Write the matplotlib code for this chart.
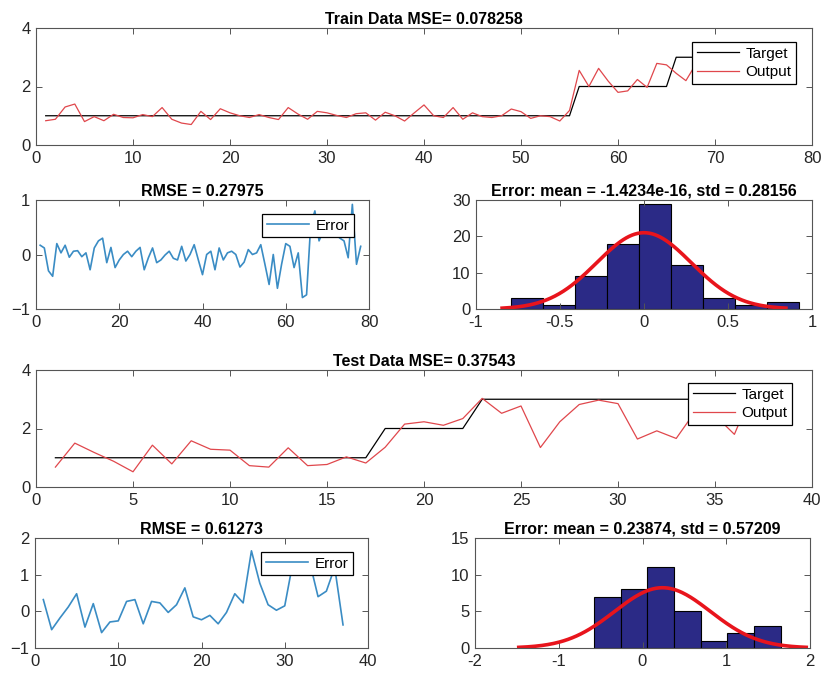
import numpy as np
import matplotlib
matplotlib.use("Agg")
import matplotlib.pyplot as plt

plt.rcParams['font.family'] = ['Liberation Sans', 'DejaVu Sans']

# ---- train data (78 samples) ----
train_target = [1] * 55 + [2] * 10 + [3] * 13
train_err = [0.17, 0.12, -0.3, -0.4, 0.2, 0.03, 0.17, -0.05, 0.06, 0.07,
             -0.04, 0.03, -0.28, 0.12, 0.25, 0.3, -0.15, 0.13, -0.24, -0.1,
             0.0, 0.06, -0.04, 0.06, 0.13, -0.28, -0.06, 0.12, -0.15, -0.1,
             -0.01, 0.06, -0.07, -0.1, 0.15, -0.12, 0.0, 0.18, -0.1, -0.37,
             0.0, 0.06, -0.28, 0.12, -0.1, 0.03, 0.06, 0.0, -0.23, -0.14,
             0.09, 0.0, 0.03, 0.18, -0.18, -0.55, 0.0, -0.62, -0.18, 0.2,
             0.15, -0.24, 0.03, -0.79, -0.74, 0.55, 0.8, 0.25, 0.43, 0.32,
             0.43, 0.37, 0.3, 0.25, -0.06, 0.92, -0.18, 0.15]
train_mse = "0.078258"
train_rmse = "0.27975"
train_mean, train_std = -1.4234e-16, 0.28156
train_mean_txt = "-1.4234e-16"
train_std_txt = "0.28156"

# ---- test data (37 samples) ----
test_target = [1] * 17 + [2] * 5 + [3] * 15
test_err = [0.32, -0.5, -0.18, 0.12, 0.48, -0.43, 0.21, -0.58, -0.29, -0.26,
            0.27, 0.32, -0.34, 0.27, 0.23, -0.03, 0.18, 0.64, -0.15, -0.23,
            -0.11, -0.34, -0.03, 0.48, 0.23, 1.65, 0.77, 0.18, 0.03, 0.15,
            1.36, 1.08, 1.34, 0.4, 0.55, 1.2, -0.37]
test_mse = "0.37543"
test_rmse = "0.61273"
test_mean, test_std = 0.23874, 0.57209
test_mean_txt = "0.23874"
test_std_txt = "0.57209"

W, H = 824, 675
fig = plt.figure(figsize=(W / 100, H / 100), dpi=100)


def box(l, t, r, b):
    return [l / W, 1 - b / H, (r - l) / W, (b - t) / H]


def style(ax):
    for s in ax.spines.values():
        s.set_color('#555555')
        s.set_linewidth(0.8)
    ax.tick_params(direction='in', top=True, right=True, length=4,
                   width=0.7, color='#555555', labelsize=12,
                   labelcolor='#262626', pad=4)


def leg(ax, dx, dy, wpx, hpx):
    lg = ax.legend(loc='upper right', bbox_to_anchor=(1 - dx / wpx, 1 - dy / hpx),
                   borderaxespad=0, fancybox=False, framealpha=1,
                   edgecolor='black', fontsize=11, handlelength=2.8,
                   borderpad=0.3, labelspacing=0.3, handletextpad=0.4)
    lg.get_frame().set_linewidth(0.9)


def data_plot(ax, target, err, title, xmax, xstep, ldx, ldy):
    x = np.arange(1, len(target) + 1)
    out = np.array(target) - np.array(err)
    ax.plot(x, target, color='black', lw=0.9, label='Target')
    ax.plot(x, out, color='#e0474c', lw=0.9, label='Output')
    ax.set_xlim(0, xmax)
    ax.set_ylim(0, 4)
    ax.set_xticks(np.arange(0, xmax + 1, xstep))
    ax.set_yticks([0, 2, 4])
    ax.set_title(title, fontsize=11.5, fontweight='bold', pad=3)
    style(ax)
    leg(ax, ldx, ldy, 776, 117)


def err_plot(ax, err, title, xmax, xstep, ylim, yticks):
    x = np.arange(1, len(err) + 1)
    ax.plot(x, err, color='#3a8cc4', lw=1.2, label='Error')
    ax.set_xlim(0, xmax)
    ax.set_ylim(*ylim)
    ax.set_xticks(np.arange(0, xmax + 1, xstep))
    ax.set_yticks(yticks)
    ax.set_title(title, fontsize=11.5, fontweight='bold', pad=3)
    style(ax)
    leg(ax, 15, 14, 333, 109)


def hist_plot(ax, err, mu, sd, title, nbins, xlim, xticks, ylim, yticks, xtl):
    counts, edges, _ = ax.hist(err, bins=nbins, color='#2b2a86',
                               edgecolor='black', linewidth=0.8)
    bw = edges[1] - edges[0]
    xs = np.linspace(mu - 3 * sd, mu + 3 * sd, 200)
    ys = len(err) * bw * np.exp(-0.5 * ((xs - mu) / sd) ** 2) / (sd * np.sqrt(2 * np.pi))
    ax.plot(xs, ys, color='#e8141c', lw=2.6)
    ax.set_xlim(*xlim)
    ax.set_ylim(*ylim)
    ax.set_xticks(xticks)
    ax.set_xticklabels(xtl)
    ax.set_yticks(yticks)
    ax.set_title(title, fontsize=11.5, fontweight='bold', pad=3)
    style(ax)


ax1 = fig.add_axes(box(36, 28, 812, 145))
data_plot(ax1, train_target, train_err, 'Train Data MSE= ' + train_mse, 80, 10, 16, 14)

ax2 = fig.add_axes(box(36, 200, 369, 309))
err_plot(ax2, train_err, 'RMSE = ' + train_rmse, 80, 20, (-1, 1), [-1, 0, 1])

ax3 = fig.add_axes(box(476, 200, 812, 309))
hist_plot(ax3, train_err, train_mean, train_std,
          'Error: mean = ' + train_mean_txt + ', std = ' + train_std_txt, 9,
          (-1, 1), [-1, -0.5, 0, 0.5, 1], (0, 30), [0, 10, 20, 30],
          ['-1', '-0.5', '0', '0.5', '1'])

ax4 = fig.add_axes(box(36, 370, 812, 487))
data_plot(ax4, test_target, test_err, 'Test Data MSE= ' + test_mse, 40, 5, 20, 13)

ax5 = fig.add_axes(box(35, 538, 368, 648))
err_plot(ax5, test_err, 'RMSE = ' + test_rmse, 40, 10, (-1, 2), [-1, 0, 1, 2])

ax6 = fig.add_axes(box(475, 538, 810, 648))
hist_plot(ax6, test_err, test_mean, test_std,
          'Error: mean = ' + test_mean_txt + ', std = ' + test_std_txt, 7,
          (-2, 2), [-2, -1, 0, 1, 2], (0, 15), [0, 5, 10, 15],
          ['-2', '-1', '0', '1', '2'])

fig.savefig('out.png', dpi=100)
